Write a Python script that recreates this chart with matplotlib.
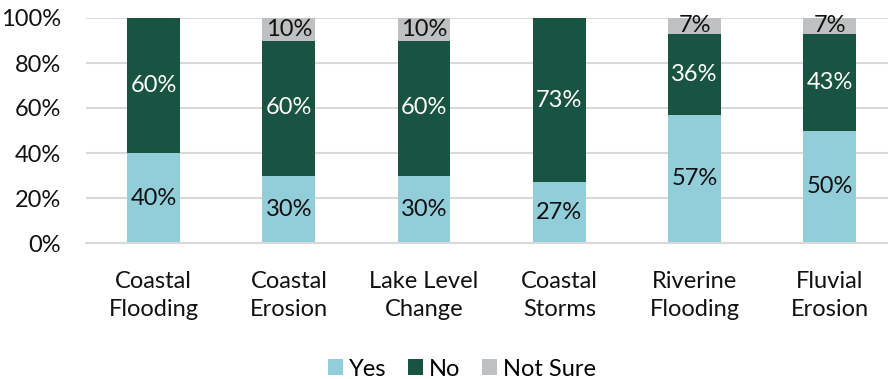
import matplotlib
matplotlib.use("Agg")
import matplotlib.pyplot as plt
import numpy as np

plt.rcParams['font.family'] = ['Lato', 'DejaVu Sans']

categories = ["Coastal\nFlooding", "Coastal\nErosion", "Lake Level\nChange",
              "Coastal\nStorms", "Riverine\nFlooding", "Fluvial\nErosion"]
yes = [40, 30, 30, 27, 57, 50]
no = [60, 60, 60, 73, 36, 43]
not_sure = [0, 10, 10, 0, 7, 7]
y_ticks = [0, 20, 40, 60, 80, 100]

c_yes = "#92CDDA"
c_no = "#185441"
c_ns = "#BEC0C2"

fig = plt.figure(figsize=(8.88, 3.79), dpi=100)
ax = fig.add_axes([86 / 888, 1 - 243 / 379, 1 - 86 / 888, (243 - 18) / 379])

x = np.arange(len(categories))
w = 0.39
yes_a = np.array(yes, float)
no_a = np.array(no, float)
ns_a = np.array(not_sure, float)

ax.bar(x, yes_a, w, color=c_yes, label="Yes", zorder=2)
ax.bar(x, no_a, w, bottom=yes_a, color=c_no, label="No", zorder=2)
ax.bar(x, ns_a, w, bottom=yes_a + no_a, color=c_ns, label="Not Sure", zorder=2)

fs = 17
for i in range(len(x)):
    if yes[i]:
        ax.text(x[i], yes[i] / 2, f"{yes[i]}%", ha="center", va="center",
                color="#111111", fontsize=fs, zorder=3)
    if no[i]:
        ax.text(x[i], yes[i] + no[i] / 2, f"{no[i]}%", ha="center", va="center",
                color="white", fontsize=fs, zorder=3)
    if not_sure[i]:
        ax.text(x[i], yes[i] + no[i] + not_sure[i] / 2, f"{not_sure[i]}%",
                ha="center", va="center", color="#111111", fontsize=fs, zorder=3)

ax.set_xlim(-0.5, 5.43)
ax.set_ylim(0, 100)
ax.set_yticks(y_ticks)
ax.set_yticklabels([f"{t}%" for t in y_ticks], fontsize=fs, color="#111111")
ax.set_xticks(x)
ax.set_xticklabels(categories, fontsize=fs, color="#111111", linespacing=1.45)
ax.tick_params(axis="both", length=0)
ax.tick_params(axis="x", pad=20)
ax.tick_params(axis="y", pad=18)
ax.yaxis.grid(True, color="#D9D9D9", linewidth=1.5, zorder=0)
for s in ["top", "right", "left"]:
    ax.spines[s].set_visible(False)
ax.spines["bottom"].set_color("#D9D9D9")
ax.spines["bottom"].set_linewidth(1.5)

fig.legend(loc="center", bbox_to_anchor=(462 / 888, 1 - 369 / 379), ncol=3,
           frameon=False, fontsize=fs, handlelength=0.65, handleheight=0.65,
           handletextpad=0.25, columnspacing=0.9)

fig.savefig("out.png", dpi=100)
